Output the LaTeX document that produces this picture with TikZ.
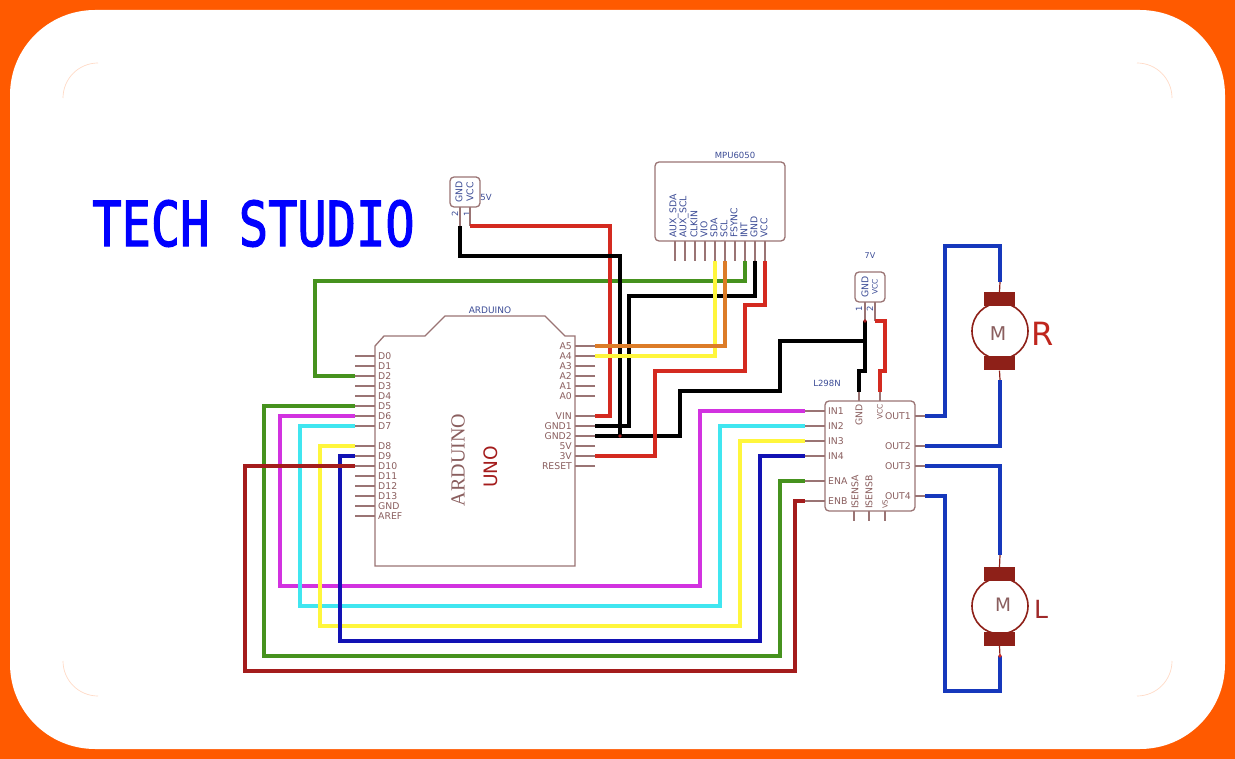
\documentclass[tikz,border=0pt]{standalone}
\usepackage{fontspec}
\setmainfont{DejaVu Sans}
\newfontfamily\serifface{Liberation Serif}
\newfontfamily\titleface[FakeBold=2]{DejaVu Sans Mono}
\definecolor{frameorange}{HTML}{FF5A00}
\definecolor{partline}{HTML}{9A7474}
\definecolor{parttext}{HTML}{8A5E5E}
\definecolor{pinblue}{HTML}{3C4C96}
\definecolor{motorred}{HTML}{8E2018}
\definecolor{wgreen}{HTML}{46921E}
\definecolor{wmag}{HTML}{D232E0}
\definecolor{wcyan}{HTML}{40E6F0}
\definecolor{wyel}{HTML}{FFF63C}
\definecolor{wdblue}{HTML}{1212B4}
\definecolor{wmblue}{HTML}{1638BC}
\definecolor{wred}{HTML}{D42A20}
\definecolor{wdred}{HTML}{A41C1C}
\definecolor{worange}{HTML}{DC7C28}
\tikzset{
  partbox/.style={draw=partline,line width=1.3pt,rounded corners=4pt,inner sep=0pt,fill=white},
  pinline/.style={draw=partline,line width=1.2pt},
  wire/.style={line width=3.2pt,line join=miter},
  lbl/.style={text=parttext,font=\fontsize{9.3}{9}\selectfont,inner sep=0pt},
  blbl/.style={text=pinblue,font=\fontsize{9.3}{9}\selectfont,inner sep=0pt,rotate=90},
  rlbl/.style={text=parttext,font=\fontsize{9.3}{9}\selectfont,inner sep=0pt,rotate=90},
  pole/.style={fill=motorred,draw=none,minimum width=31pt,minimum height=14pt,inner sep=0pt},
  rotor/.style={circle,draw=motorred,line width=1.6pt,minimum size=56pt,inner sep=0pt,fill=white},
  cornerarc/.style={draw=frameorange!22,line width=.7pt},
}
% left / right Arduino pins: name, label, y
\newcommand\ardL[3]{\coordinate (#1) at (355,#3);\draw[pinline] (#1) -- (375,#3);
  \node[lbl,anchor=west] (t#1) at (378,#3) {#2};}
\newcommand\ardR[3]{\coordinate (#1) at (595,#3);\draw[pinline] (#1) -- (575,#3);
  \node[lbl,anchor=east] (t#1) at (572,#3) {#2};}
\newcommand\mpuP[3]{\coordinate (#1) at (#3,261);\draw[pinline] (#1) -- (#3,241);
  \node[blbl,anchor=west] (t#1) at (#3-1,238) {#2};}
\newcommand\ldL[3]{\coordinate (#1) at (805,#3);\draw[pinline] (#1) -- (825,#3);
  \node[lbl,anchor=west] (t#1) at (828,#3) {#2};}
\newcommand\ldR[3]{\coordinate (#1) at (925,#3);\draw[pinline] (#1) -- (915,#3);
  \node[lbl,anchor=east] (t#1) at (911,#3) {#2};}
\begin{document}
\begin{tikzpicture}[x=1pt,y=-1pt]
\useasboundingbox (0,0) rectangle (1235,759);
\fill[frameorange] (0,0) rectangle (1235,759);
\fill[white,rounded corners=85pt] (10,10) rectangle (1225,749);
% faint inner corners
\draw[cornerarc] (63,98) arc[start angle=180,end angle=270,radius=35];
\draw[cornerarc] (1137,63) arc[start angle=270,end angle=360,radius=35];
\draw[cornerarc] (63,661) arc[start angle=180,end angle=90,radius=35];
\draw[cornerarc] (1137,696) arc[start angle=90,end angle=0,radius=35];
% title
\node[text=blue,inner sep=0pt,xscale=.785] (title) at (253.5,223.5)
  {\fontsize{62}{62}\selectfont\titleface TECH STUDIO};
% Arduino
\draw[partline,line width=1.3pt] (375,346) -- (384,336) -- (425,336) -- (445,316) -- (545,316)
  -- (565,336) -- (575,336) -- (575,566) -- (375,566) -- cycle;
\node[text=pinblue,font=\fontsize{9}{9}\selectfont,inner sep=0pt] (ardtitle) at (490,310) {ARDUINO};
\node[text=parttext,font=\fontsize{20}{20}\selectfont\serifface,rotate=90,inner sep=0pt] (ardname) at (458,460) {ARDUINO};
\node[text=wdred,font=\fontsize{18.5}{19}\selectfont,rotate=90,inner sep=0pt] (unoname) at (491,467) {UNO};
\ardL{D0}{D0}{356}\ardL{D1}{D1}{366}\ardL{D2}{D2}{376}\ardL{D3}{D3}{386}
\ardL{D4}{D4}{396}\ardL{D5}{D5}{406}\ardL{D6}{D6}{416}\ardL{D7}{D7}{426}
\ardL{D8}{D8}{446}\ardL{D9}{D9}{456}\ardL{D10}{D10}{466}\ardL{D11}{D11}{476}
\ardL{D12}{D12}{486}\ardL{D13}{D13}{496}\ardL{AGND}{GND}{506}\ardL{AREF}{AREF}{516}
\ardR{A5}{A5}{346}\ardR{A4}{A4}{356}\ardR{A3}{A3}{366}\ardR{A2}{A2}{376}
\ardR{A1}{A1}{386}\ardR{A0}{A0}{396}\ardR{VIN}{VIN}{416}\ardR{GNDa}{GND1}{426}
\ardR{GNDb}{GND2}{436}\ardR{Vfive}{5V}{446}\ardR{Vthree}{3V}{456}\ardR{RST}{RESET}{466}
% MPU6050
\node[partbox,minimum width=130pt,minimum height=79pt] (mpu) at (720,201.5) {};
\node[text=pinblue,font=\fontsize{8.5}{9}\selectfont,inner sep=0pt] (mputitle) at (735,155) {MPU6050};
\mpuP{mAS}{AUX\_SDA}{675}\mpuP{mAC}{AUX\_SCL}{685}\mpuP{mCK}{CLKIN}{695}\mpuP{mVI}{VIO}{705}
\mpuP{mSDA}{SDA}{715}\mpuP{mSCL}{SCL}{725}\mpuP{mFS}{FSYNC}{735}\mpuP{mINT}{INT}{745}
\mpuP{mGND}{GND}{755}\mpuP{mVCC}{VCC}{765}
% 5V supply
\node[partbox,minimum width=30pt,minimum height=30pt] (bata) at (465,192) {};
\node[blbl] (batag) at (459,192) {GND};
\node[blbl] (batav) at (470,192) {VCC};
\node[text=pinblue,font=\fontsize{8.5}{9}\selectfont,inner sep=0pt] (batav5) at (486,197.5) {5V};
\node[blbl,font=\fontsize{8.5}{9}\selectfont] (bata2) at (455,214) {2};
\node[blbl,font=\fontsize{8.5}{9}\selectfont] (bata1) at (467,214) {1};
\coordinate (aG) at (460,226);\coordinate (aV) at (470,226);
\draw[pinline] (aG) -- (460,207);\draw[pinline] (aV) -- (470,207);
% 7V supply
\node[partbox,minimum width=30pt,minimum height=30pt] (batb) at (870,287) {};
\node[blbl] (batbg) at (865,287) {GND};
\node[blbl,font=\fontsize{7.5}{8}\selectfont] (batbv) at (875,287) {VCC};
\node[text=pinblue,font=\fontsize{8}{9}\selectfont,inner sep=0pt] (batb7) at (870,256) {7V};
\node[blbl,font=\fontsize{8.5}{9}\selectfont] (batb1) at (859,309) {1};
\node[blbl,font=\fontsize{8.5}{9}\selectfont] (batb2) at (870,309) {2};
\coordinate (bG) at (865,321);\coordinate (bV) at (875,321);
\draw[pinline] (bG) -- (865,302);\draw[pinline] (bV) -- (875,302);
% L298N
\node[partbox,minimum width=90pt,minimum height=110pt] (drv) at (870,456) {};
\node[text=pinblue,font=\fontsize{8.5}{9}\selectfont,inner sep=0pt] (drvtitle) at (827,383) {L298N};
\ldL{iA}{IN1}{411}\ldL{iB}{IN2}{426}\ldL{iC}{IN3}{441}\ldL{iD}{IN4}{456}\ldL{eA}{ENA}{481}\ldL{eB}{ENB}{501}
\ldR{oA}{OUT1}{416}\ldR{oB}{OUT2}{446}\ldR{oC}{OUT3}{466}\ldR{oD}{OUT4}{496}
\coordinate (dG) at (859,392);\coordinate (dV) at (880,392);
\draw[pinline] (dG) -- (859,401);\draw[pinline] (dV) -- (880,401);
\node[rlbl] (tdG) at (859,415) {GND};
\node[rlbl,font=\fontsize{7.5}{8}\selectfont] (tdV) at (880,412) {VCC};
\node[rlbl,anchor=west] (tSA) at (855,509) {ISENSA};
\node[rlbl,anchor=west] (tSB) at (869,509) {ISENSB};
\node[rlbl,anchor=west,font=\fontsize{7}{8}\selectfont] (tVS) at (885,509) {VS};
\draw[pinline] (854,511) -- (854,521) (869,511) -- (869,521) (885,511) -- (885,521);
% motors
\node[rotor] (mR) at (1000,331) {};
\node[pole] (mRa) at (999.5,299) {};
\node[pole] (mRb) at (999.5,363.5) {};
\node[text=parttext,font=\fontsize{19}{19}\selectfont,inner sep=0pt] (mRm) at (998,334) {M};
\node[text=wred!90!black,font=\fontsize{32}{32}\selectfont,inner sep=0pt] (mRl) at (1043,334) {R};
\coordinate (rT) at (1000,282);\coordinate (rB) at (1000,380);
\draw[draw=motorred,line width=1.2pt] (rT) -- (mRa.north) (rB) -- (mRb.south);
\node[rotor] (mL) at (1000,606) {};
\node[pole] (mLa) at (999.5,574) {};
\node[pole] (mLb) at (999.5,639) {};
\node[text=parttext,font=\fontsize{18.5}{19}\selectfont,inner sep=0pt] (mLm) at (1003,605) {M};
\node[text=wdred!80!parttext,font=\fontsize{25}{25}\selectfont,inner sep=0pt] (mLl) at (1041,609) {L};
\coordinate (lT) at (1000,555);\coordinate (lB) at (1000,656);
\draw[draw=motorred,line width=1.2pt] (lT) -- (mLa.north) (lB) -- (mLb.south);
% wires
\draw[wire,wgreen] (D2) -- (315,376) -- (315,281) -- (745,281) -- (mINT);
\draw[wire,wgreen] (D5) -- (264,406) -- (264,656) -- (780,656) -- (780,481) -- (eA);
\draw[wire,wmag] (D6) -- (280,416) -- (280,586) -- (700,586) -- (700,411) -- (iA);
\draw[wire,wcyan] (D7) -- (300,426) -- (300,606) -- (720,606) -- (720,426) -- (iB);
\draw[wire,wyel] (D8) -- (320,446) -- (320,626) -- (740,626) -- (740,441) -- (iC);
\draw[wire,wdblue] (D9) -- (340,456) -- (340,641) -- (760,641) -- (760,456) -- (iD);
\draw[wire,wdred] (D10) -- (245,466) -- (245,671) -- (795,671) -- (795,501) -- (eB);
\draw[wire,wred] (aV) -- (610,226) -- (610,416) -- (VIN);
\draw[wire,black] (aG) -- (460,256) -- (620,256) -- (620,436);
\draw[wire,black] (mGND) -- (755,296) -- (629,296) -- (629,426) -- (GNDa);
\draw[wire,black] (GNDb) -- (680,436) -- (680,391) -- (780,391) -- (780,341) -- (865,341);
\draw[wire,wyel] (mSDA) -- (715,356) -- (A4);
\draw[wire,worange] (mSCL) -- (725,346) -- (A5);
\draw[wire,wred] (mVCC) -- (765,305) -- (745,305) -- (745,371) -- (655,371) -- (655,456) -- (Vthree);
\draw[wire,black] (bG) -- (865,371) -- (859,371) -- (dG);
\draw[wire,wred] (bV) -- (885,321) -- (885,371) -- (880,371) -- (dV);
\draw[wire,wmblue] (oA) -- (945,416) -- (945,246) -- (1000,246) -- (rT);
\draw[wire,wmblue] (oB) -- (1000,446) -- (rB);
\draw[wire,wmblue] (oC) -- (1000,466) -- (lT);
\draw[wire,wmblue] (oD) -- (945,496) -- (945,691) -- (1000,691) -- (lB);
% junction dots
\fill[wdred] (620,436) circle (1.8);
\fill[wdred] (bG) circle (1.8);
\fill[wred] (lB) circle (1.8);
\end{tikzpicture}
\end{document}
